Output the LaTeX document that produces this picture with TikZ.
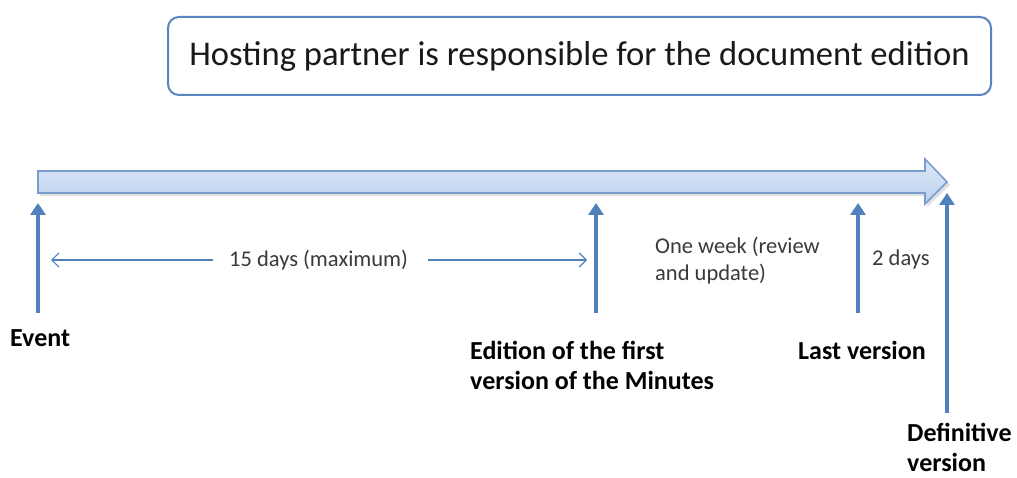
\documentclass[tikz,border=0pt]{standalone}
\usepackage{fontspec}
\setmainfont{Carlito}
\usetikzlibrary{arrows.meta}
\definecolor{arrowblue}{HTML}{4F81BD}
\definecolor{boxblue}{HTML}{5A84BE}
\definecolor{barfilltop}{HTML}{DCE7F6}
\definecolor{barfillbot}{HTML}{BCD1EE}
\definecolor{barline}{HTML}{7A9DD0}
\definecolor{txtgray}{HTML}{3A3A3A}
\tikzset{
  titlebox/.style={draw=boxblue, line width=2pt, rounded corners=11pt, minimum width=823pt, minimum height=78pt, inner sep=0pt, font=\fontsize{34.6}{40}\selectfont, text=black!90},
  timeline/.style={draw=barline, line width=1.6pt, top color=barfilltop, bottom color=barfillbot, line join=miter},
  vshaft/.style={draw=arrowblue, line width=4.5pt, -{Triangle[width=15pt,length=12pt]}},
  spanarrow/.style={draw=arrowblue, line width=1.2pt, -{Straight Barb[length=7pt,width=14pt,line width=1.2pt]}},
  midtext/.style={inner sep=0pt, anchor=west, align=left, text=txtgray, font=\fontsize{22.5}{27}\selectfont},
  labeltext/.style={inner sep=0pt, anchor=west, align=left, text=black, font=\bfseries\fontsize{26}{30}\selectfont}
}
\begin{document}
\begin{tikzpicture}[x=1pt,y=-1pt]
\useasboundingbox (0,0) rectangle (1017,478);
% title box
\node[titlebox] (title) at (579.5,56) {\raisebox{-3pt}{Hosting partner is responsible for the document edition}};
% timeline arrow with faint shadow
\fill[black, opacity=0.12] (40,174) -- (927,174) -- (927,162) -- (950,185) -- (927,207) -- (927,196) -- (40,196) -- cycle;
\path[timeline] (38,171) -- (925,171) -- (925,159) -- (947,182) -- (925,204) -- (925,193) -- (38,193) -- cycle;
% labels
\node[labeltext] (event) at (10,338) {Event};
\node[labeltext] (edition) at (470,365) {Edition of the first\\version of the Minutes};
\node[labeltext] (last) at (798,350) {Last version};
\node[labeltext] (defin) at (907,447) {Definitive\\version};
\node[midtext] (d15) at (229,260) {15 days (maximum)};
\node[midtext] (week) at (655,261) {One week (review\\and update)};
\node[midtext] (d2) at (872,260) {2 days};
% vertical arrows
\coordinate (evB) at (38,313); \coordinate (evT) at (38,203);
\coordinate (edB) at (596,313); \coordinate (edT) at (596,203);
\coordinate (laB) at (858,313); \coordinate (laT) at (858,203);
\coordinate (deB) at (947,413); \coordinate (deT) at (947,193);
\draw[vshaft] (evB) -- (evT);
\draw[vshaft] (edB) -- (edT);
\draw[vshaft] (laB) -- (laT);
\draw[vshaft] (deB) -- (deT);
% span arrow
\coordinate (spanL) at (51,260);
\coordinate (spanR) at (587,260);
\draw[spanarrow] ([xshift=-16pt]d15.west) -- (spanL);
\draw[spanarrow] ([xshift=20pt]d15.east) -- (spanR);
\end{tikzpicture}
\end{document}
